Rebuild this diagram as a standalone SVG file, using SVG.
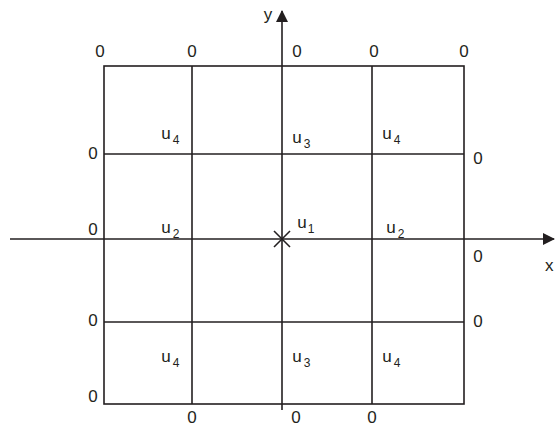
<svg xmlns="http://www.w3.org/2000/svg" width="556" height="427" viewBox="0 0 556 427">
<style>
.g{stroke:#231f20;stroke-width:1.6;fill:none}
text{font-family:"Liberation Sans",Arial,sans-serif;font-size:17px;fill:#231f20;text-anchor:middle}
.s{font-size:12px}
</style>
<defs>
<marker id="ah" viewBox="0 0 12 12" refX="11" refY="6" markerWidth="12" markerHeight="12" markerUnits="userSpaceOnUse" orient="auto">
<path d="M0,0 L12,6 L0,12 z" fill="#231f20"/>
</marker>
</defs>
<g id="connectors">
<rect class="g" x="104" y="66" width="360" height="338"/>
<line class="g" x1="192" y1="66" x2="192" y2="404"/>
<line class="g" x1="372" y1="66" x2="372" y2="404"/>
<line class="g" x1="104" y1="154" x2="464" y2="154"/>
<line class="g" x1="104" y1="322" x2="464" y2="322"/>
<line class="g" x1="10" y1="239" x2="554" y2="239" marker-end="url(#ah)"/>
<line class="g" x1="282" y1="410" x2="282" y2="11" marker-end="url(#ah)"/>
<line class="g" x1="274" y1="231" x2="290" y2="247"/>
<line class="g" x1="290" y1="231" x2="274" y2="247"/>
</g>
<g id="labels">
<text x="268" y="20">y</text>
<text x="545" y="271" style="text-anchor:start">x</text>
<text x="100" y="57">0</text>
<text x="192" y="57">0</text>
<text x="297" y="57">0</text>
<text x="374" y="57">0</text>
<text x="464" y="57">0</text>
<text x="93" y="159">0</text>
<text x="478" y="164">0</text>
<text x="93" y="235">0</text>
<text x="478" y="262">0</text>
<text x="93" y="326">0</text>
<text x="478" y="327">0</text>
<text x="93" y="402">0</text>
<text x="192" y="423">0</text>
<text x="296" y="423">0</text>
<text x="372" y="423">0</text>
<text x="166" y="139">u</text><text class="s" x="176" y="144">4</text>
<text x="297" y="143">u</text><text class="s" x="307" y="148">3</text>
<text x="387" y="139">u</text><text class="s" x="397" y="144">4</text>
<text x="166" y="233">u</text><text class="s" x="176" y="238">2</text>
<text x="302" y="228">u</text><text class="s" x="311" y="233">1</text>
<text x="391" y="233">u</text><text class="s" x="401" y="238">2</text>
<text x="166" y="362">u</text><text class="s" x="176" y="367">4</text>
<text x="297" y="362">u</text><text class="s" x="307" y="367">3</text>
<text x="387" y="362">u</text><text class="s" x="397" y="367">4</text>
</g>
</svg>
